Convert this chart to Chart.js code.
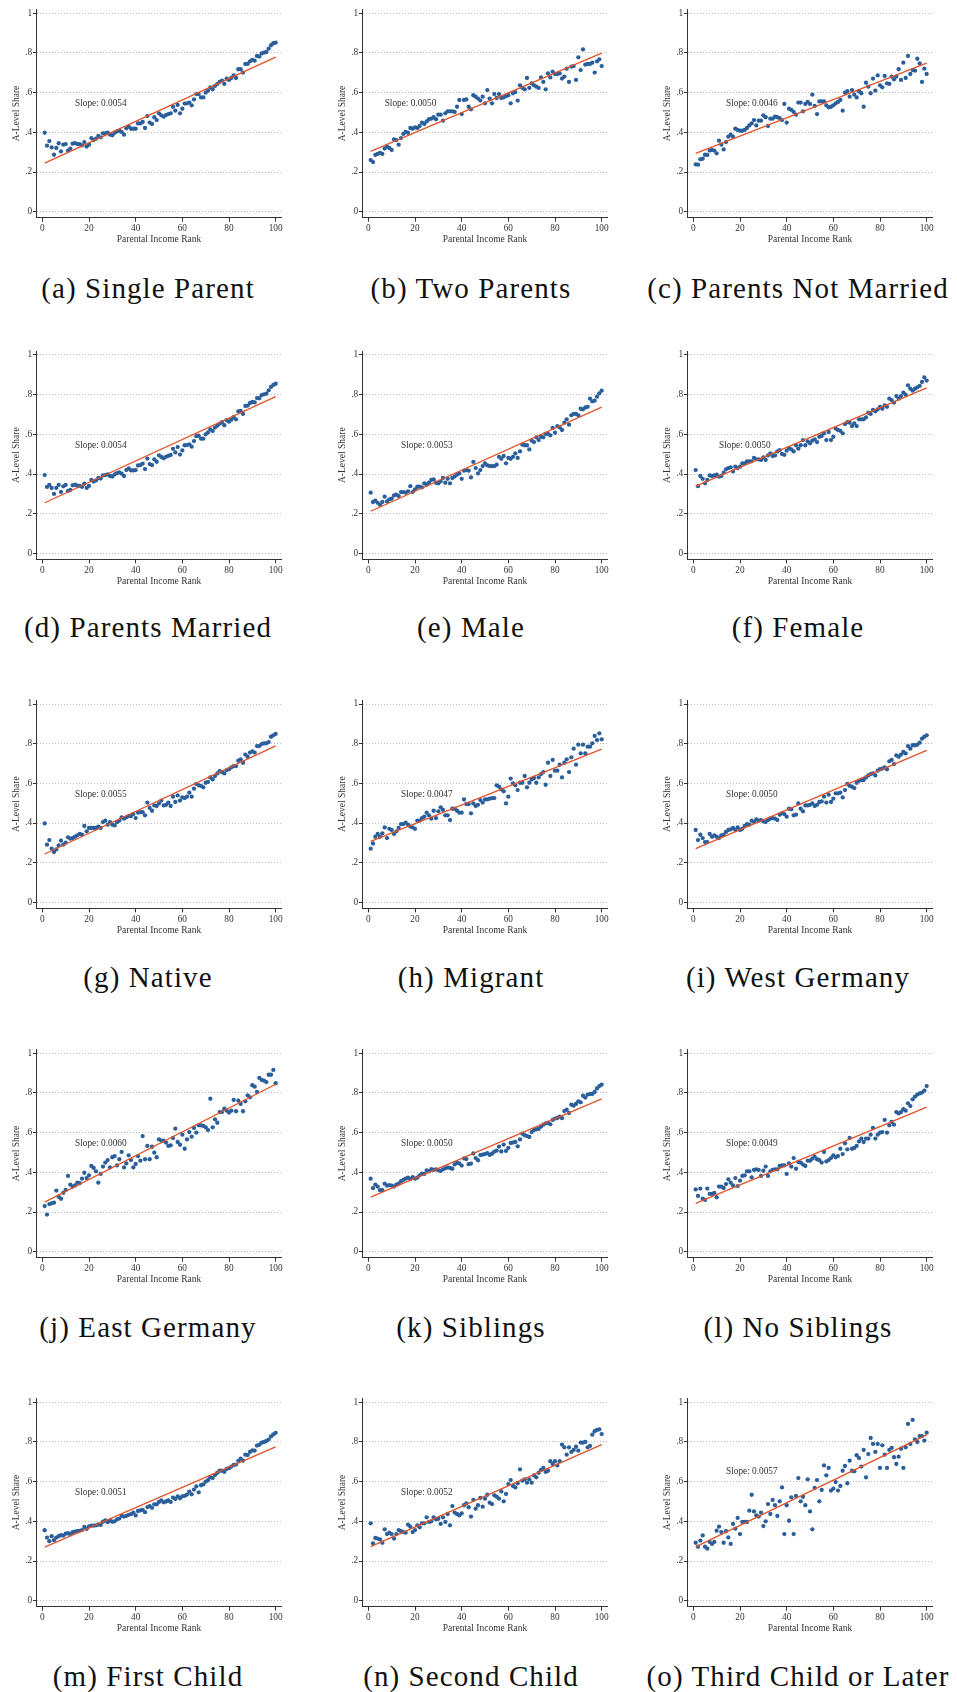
<!DOCTYPE html>
<html>
<head>
<meta charset="utf-8">
<script src="https://cdn.jsdelivr.net/npm/chart.js@4.4.0/dist/chart.umd.min.js"></script>
<style>
  html, body { margin: 0; padding: 0; background: #fff; }
  body { position: relative; width: 957px; height: 1692px; overflow: hidden; }
  canvas { position: absolute; }
  .cap {
    position: absolute; white-space: nowrap; transform: translateX(-50%);
    font-family: "Liberation Serif", serif; font-size: 29px; letter-spacing: 1.1px;
    line-height: 34px; color: #111;
  }
</style>
</head>
<body>
<script>
// Parental income rank (x) shared by every panel
const ranks = [
  1, 2, 3, 4, 5, 6, 7, 8, 9, 10, 11, 12, 13, 14, 15, 16, 17, 18, 19, 20,
  21, 22, 23, 24, 25, 26, 27, 28, 29, 30, 31, 32, 33, 34, 35, 36, 37, 38, 39, 40,
  41, 42, 43, 44, 45, 46, 47, 48, 49, 50, 51, 52, 53, 54, 55, 56, 57, 58, 59, 60,
  61, 62, 63, 64, 65, 66, 67, 68, 69, 70, 71, 72, 73, 74, 75, 76, 77, 78, 79, 80,
  81, 82, 83, 84, 85, 86, 87, 88, 89, 90, 91, 92, 93, 94, 95, 96, 97, 98, 99, 100
];

// A-level share by parental income rank, one array per subgroup
const singleParent = [
  0.398,0.333,0.356,0.324,0.287,0.321,0.345,0.304,0.338,0.341,
  0.308,0.318,0.343,0.346,0.341,0.340,0.334,0.351,0.328,0.338,
  0.371,0.361,0.368,0.382,0.375,0.395,0.395,0.398,0.388,0.385,
  0.398,0.405,0.408,0.402,0.388,0.420,0.429,0.418,0.418,0.418,
  0.445,0.445,0.452,0.422,0.482,0.449,0.442,0.476,0.462,0.496,
  0.486,0.479,0.487,0.492,0.496,0.529,0.509,0.538,0.496,0.519,
  0.545,0.546,0.550,0.536,0.566,0.593,0.593,0.576,0.576,0.600,
  0.610,0.627,0.617,0.634,0.644,0.654,0.661,0.644,0.671,0.664,
  0.674,0.687,0.674,0.718,0.718,0.701,0.745,0.745,0.758,0.765,
  0.761,0.785,0.782,0.798,0.802,0.805,0.822,0.839,0.849,0.852
];
const twoParents = [
  0.260,0.250,0.286,0.291,0.297,0.291,0.318,0.328,0.321,0.311,
  0.365,0.361,0.338,0.371,0.392,0.402,0.398,0.422,0.418,0.425,
  0.422,0.432,0.449,0.442,0.455,0.466,0.469,0.476,0.466,0.489,
  0.489,0.459,0.496,0.506,0.506,0.506,0.503,0.529,0.563,0.492,
  0.563,0.566,0.529,0.516,0.587,0.580,0.570,0.560,0.580,0.546,
  0.613,0.570,0.546,0.593,0.573,0.593,0.573,0.576,0.583,0.587,
  0.546,0.597,0.603,0.560,0.637,0.624,0.617,0.674,0.624,0.647,
  0.637,0.630,0.624,0.677,0.654,0.617,0.697,0.677,0.706,0.694,
  0.694,0.697,0.671,0.681,0.721,0.654,0.731,0.734,0.664,0.778,
  0.714,0.818,0.741,0.745,0.745,0.751,0.701,0.758,0.768,0.734
];
const parentsNotMarried = [
  0.239,0.237,0.264,0.267,0.287,0.286,0.308,0.311,0.308,0.294,
  0.358,0.338,0.314,0.351,0.378,0.388,0.378,0.418,0.412,0.408,
  0.408,0.412,0.422,0.435,0.445,0.462,0.435,0.459,0.459,0.486,
  0.476,0.432,0.469,0.469,0.479,0.476,0.472,0.462,0.543,0.449,
  0.519,0.513,0.503,0.489,0.550,0.550,0.506,0.543,0.553,0.543,
  0.590,0.533,0.492,0.556,0.556,0.556,0.536,0.526,0.529,0.536,
  0.546,0.553,0.563,0.509,0.600,0.607,0.580,0.613,0.590,0.576,
  0.607,0.597,0.529,0.650,0.630,0.597,0.671,0.610,0.687,0.637,
  0.627,0.684,0.647,0.644,0.681,0.667,0.681,0.718,0.664,0.751,
  0.674,0.785,0.694,0.714,0.711,0.771,0.748,0.654,0.721,0.694
];
const parentsMarried = [
  0.395,0.335,0.345,0.330,0.300,0.330,0.345,0.310,0.338,0.345,
  0.315,0.320,0.343,0.346,0.341,0.340,0.336,0.351,0.330,0.340,
  0.370,0.362,0.368,0.380,0.377,0.393,0.395,0.398,0.390,0.387,
  0.398,0.405,0.408,0.402,0.390,0.420,0.428,0.418,0.418,0.420,
  0.443,0.445,0.452,0.425,0.478,0.450,0.445,0.474,0.462,0.494,
  0.486,0.479,0.487,0.492,0.496,0.527,0.509,0.536,0.498,0.519,
  0.545,0.546,0.550,0.538,0.566,0.591,0.593,0.578,0.578,0.600,
  0.610,0.625,0.617,0.634,0.644,0.654,0.661,0.646,0.671,0.664,
  0.674,0.687,0.676,0.716,0.718,0.703,0.743,0.745,0.758,0.763,
  0.761,0.783,0.782,0.798,0.802,0.805,0.822,0.839,0.849,0.855
];
const male = [
  0.306,0.259,0.266,0.255,0.245,0.259,0.286,0.262,0.272,0.276,
  0.292,0.296,0.289,0.309,0.309,0.306,0.313,0.339,0.309,0.323,
  0.336,0.336,0.333,0.353,0.346,0.356,0.370,0.373,0.356,0.353,
  0.363,0.380,0.356,0.376,0.353,0.380,0.387,0.397,0.403,0.376,
  0.417,0.420,0.417,0.383,0.461,0.430,0.403,0.420,0.440,0.454,
  0.444,0.440,0.440,0.440,0.447,0.487,0.477,0.491,0.454,0.481,
  0.477,0.487,0.504,0.481,0.514,0.548,0.545,0.545,0.524,0.568,
  0.561,0.585,0.571,0.588,0.585,0.602,0.602,0.595,0.632,0.608,
  0.642,0.635,0.622,0.659,0.676,0.649,0.696,0.703,0.703,0.696,
  0.729,0.726,0.736,0.739,0.780,0.766,0.770,0.790,0.807,0.820
];
const female = [
  0.420,0.339,0.390,0.376,0.353,0.370,0.393,0.390,0.393,0.397,
  0.387,0.390,0.407,0.424,0.430,0.434,0.413,0.437,0.430,0.437,
  0.454,0.454,0.464,0.464,0.464,0.481,0.474,0.474,0.471,0.484,
  0.471,0.494,0.504,0.491,0.494,0.514,0.521,0.501,0.497,0.518,
  0.531,0.524,0.514,0.545,0.528,0.545,0.571,0.545,0.565,0.555,
  0.568,0.575,0.561,0.588,0.592,0.605,0.571,0.612,0.571,0.588,
  0.629,0.622,0.618,0.605,0.652,0.662,0.659,0.642,0.655,0.642,
  0.676,0.676,0.676,0.686,0.709,0.703,0.723,0.716,0.726,0.739,
  0.729,0.746,0.739,0.780,0.773,0.760,0.793,0.780,0.793,0.810,
  0.800,0.847,0.830,0.820,0.830,0.837,0.844,0.864,0.887,0.871
];
const native = [
  0.398,0.291,0.314,0.271,0.254,0.267,0.287,0.311,0.291,0.301,
  0.328,0.321,0.324,0.331,0.338,0.345,0.341,0.385,0.358,0.375,
  0.375,0.375,0.375,0.382,0.375,0.405,0.412,0.392,0.405,0.392,
  0.388,0.405,0.412,0.429,0.422,0.429,0.435,0.435,0.445,0.425,
  0.452,0.455,0.455,0.439,0.503,0.476,0.462,0.489,0.486,0.499,
  0.513,0.489,0.492,0.503,0.486,0.533,0.506,0.539,0.513,0.529,
  0.526,0.533,0.553,0.533,0.573,0.597,0.590,0.587,0.580,0.603,
  0.607,0.630,0.620,0.637,0.650,0.661,0.657,0.650,0.667,0.671,
  0.681,0.687,0.687,0.714,0.721,0.704,0.745,0.734,0.755,0.761,
  0.755,0.788,0.788,0.798,0.802,0.802,0.808,0.835,0.842,0.849
];
const migrant = [
  0.271,0.297,0.331,0.345,0.331,0.348,0.378,0.324,0.371,0.365,
  0.345,0.358,0.375,0.395,0.395,0.402,0.392,0.382,0.378,0.371,
  0.412,0.412,0.425,0.432,0.452,0.439,0.422,0.462,0.425,0.459,
  0.479,0.466,0.439,0.439,0.415,0.472,0.472,0.462,0.452,0.452,
  0.519,0.496,0.496,0.449,0.499,0.486,0.492,0.516,0.503,0.519,
  0.519,0.523,0.526,0.526,0.590,0.583,0.570,0.560,0.499,0.533,
  0.624,0.600,0.590,0.566,0.603,0.603,0.637,0.580,0.603,0.620,
  0.627,0.603,0.630,0.647,0.657,0.593,0.704,0.637,0.718,0.664,
  0.664,0.694,0.630,0.704,0.721,0.657,0.731,0.775,0.694,0.795,
  0.751,0.795,0.751,0.785,0.785,0.802,0.839,0.818,0.852,0.822
];
const westGermany = [
  0.365,0.314,0.341,0.324,0.304,0.304,0.345,0.331,0.338,0.331,
  0.324,0.338,0.341,0.355,0.365,0.368,0.375,0.365,0.378,0.365,
  0.371,0.385,0.395,0.392,0.412,0.405,0.418,0.412,0.415,0.408,
  0.405,0.415,0.422,0.425,0.422,0.415,0.442,0.449,0.445,0.432,
  0.472,0.469,0.439,0.442,0.499,0.472,0.459,0.489,0.489,0.492,
  0.499,0.486,0.492,0.506,0.509,0.533,0.503,0.543,0.506,0.523,
  0.550,0.550,0.553,0.529,0.566,0.597,0.587,0.583,0.576,0.603,
  0.613,0.617,0.617,0.630,0.640,0.647,0.650,0.640,0.664,0.671,
  0.674,0.681,0.671,0.711,0.718,0.697,0.741,0.734,0.745,0.758,
  0.751,0.788,0.775,0.792,0.792,0.795,0.805,0.825,0.835,0.842
];
const eastGermany = [
  0.230,0.187,0.240,0.244,0.247,0.308,0.277,0.267,0.297,0.311,
  0.382,0.338,0.328,0.334,0.348,0.345,0.368,0.398,0.371,0.385,
  0.432,0.422,0.405,0.348,0.392,0.429,0.449,0.462,0.425,0.476,
  0.482,0.435,0.466,0.503,0.425,0.445,0.486,0.462,0.425,0.442,
  0.482,0.459,0.583,0.466,0.533,0.466,0.529,0.499,0.476,0.566,
  0.560,0.560,0.550,0.533,0.536,0.573,0.620,0.553,0.539,0.590,
  0.519,0.566,0.603,0.580,0.624,0.600,0.637,0.637,0.634,0.627,
  0.613,0.771,0.627,0.667,0.650,0.704,0.704,0.721,0.711,0.701,
  0.711,0.765,0.708,0.761,0.745,0.708,0.758,0.788,0.778,0.839,
  0.832,0.805,0.876,0.866,0.862,0.855,0.892,0.892,0.916,0.849
];
const siblings = [
  0.368,0.320,0.338,0.328,0.310,0.310,0.343,0.333,0.336,0.333,
  0.328,0.338,0.343,0.355,0.362,0.368,0.373,0.366,0.376,0.368,
  0.373,0.385,0.393,0.392,0.410,0.405,0.416,0.412,0.415,0.410,
  0.407,0.415,0.420,0.425,0.422,0.418,0.440,0.447,0.445,0.434,
  0.470,0.467,0.441,0.444,0.495,0.472,0.461,0.487,0.489,0.492,
  0.497,0.488,0.494,0.504,0.509,0.530,0.505,0.540,0.508,0.523,
  0.548,0.550,0.553,0.531,0.566,0.595,0.587,0.583,0.578,0.603,
  0.613,0.617,0.619,0.630,0.640,0.647,0.650,0.642,0.664,0.671,
  0.674,0.681,0.673,0.709,0.716,0.699,0.741,0.736,0.745,0.758,
  0.753,0.786,0.777,0.792,0.794,0.795,0.805,0.823,0.835,0.842
];
const noSiblings = [
  0.314,0.281,0.318,0.267,0.261,0.318,0.291,0.291,0.297,0.274,
  0.328,0.328,0.321,0.341,0.365,0.348,0.334,0.371,0.331,0.358,
  0.382,0.385,0.405,0.405,0.375,0.412,0.415,0.412,0.382,0.408,
  0.429,0.382,0.405,0.412,0.415,0.415,0.432,0.435,0.435,0.392,
  0.445,0.429,0.472,0.418,0.452,0.449,0.439,0.432,0.459,0.459,
  0.469,0.479,0.466,0.462,0.449,0.503,0.455,0.462,0.472,0.486,
  0.476,0.482,0.519,0.492,0.546,0.516,0.573,0.519,0.523,0.533,
  0.556,0.570,0.553,0.570,0.570,0.590,0.624,0.570,0.590,0.600,
  0.603,0.664,0.600,0.637,0.654,0.640,0.704,0.697,0.704,0.718,
  0.711,0.748,0.734,0.768,0.782,0.792,0.798,0.802,0.812,0.835
];
const firstChild = [
  0.355,0.318,0.300,0.325,0.305,0.318,0.325,0.330,0.328,0.338,
  0.340,0.335,0.345,0.348,0.350,0.352,0.356,0.372,0.362,0.375,
  0.378,0.378,0.380,0.384,0.382,0.398,0.405,0.396,0.404,0.398,
  0.400,0.410,0.414,0.428,0.424,0.428,0.433,0.436,0.444,0.430,
  0.452,0.455,0.458,0.446,0.472,0.476,0.468,0.486,0.486,0.498,
  0.506,0.496,0.500,0.505,0.498,0.520,0.512,0.526,0.516,0.526,
  0.528,0.535,0.550,0.536,0.560,0.576,0.546,0.582,0.586,0.600,
  0.607,0.622,0.618,0.634,0.645,0.655,0.655,0.650,0.664,0.668,
  0.676,0.684,0.686,0.705,0.716,0.706,0.736,0.734,0.750,0.758,
  0.756,0.782,0.786,0.796,0.800,0.805,0.812,0.828,0.838,0.846
];
const secondChild = [
  0.390,0.289,0.316,0.313,0.309,0.292,0.360,0.336,0.343,0.336,
  0.313,0.336,0.356,0.350,0.346,0.343,0.383,0.373,0.346,0.356,
  0.380,0.370,0.390,0.390,0.420,0.397,0.400,0.420,0.410,0.413,
  0.387,0.420,0.397,0.437,0.380,0.477,0.444,0.437,0.430,0.440,
  0.481,0.491,0.471,0.424,0.508,0.464,0.481,0.518,0.474,0.514,
  0.534,0.494,0.487,0.531,0.524,0.514,0.551,0.501,0.538,0.588,
  0.608,0.578,0.571,0.592,0.662,0.605,0.612,0.595,0.612,0.595,
  0.632,0.622,0.645,0.659,0.669,0.649,0.655,0.703,0.689,0.703,
  0.682,0.703,0.787,0.773,0.736,0.773,0.750,0.760,0.776,0.756,
  0.797,0.797,0.800,0.773,0.780,0.837,0.854,0.861,0.864,0.840
];
const thirdChildOrLater = [
  0.292,0.272,0.303,0.329,0.272,0.262,0.296,0.286,0.296,0.353,
  0.373,0.346,0.292,0.350,0.319,0.286,0.387,0.363,0.417,0.336,
  0.397,0.397,0.397,0.454,0.534,0.450,0.430,0.424,0.444,0.376,
  0.400,0.487,0.437,0.508,0.481,0.427,0.501,0.571,0.336,0.481,
  0.403,0.521,0.336,0.528,0.618,0.501,0.524,0.481,0.612,0.450,
  0.360,0.568,0.608,0.501,0.558,0.682,0.632,0.669,0.555,0.565,
  0.598,0.555,0.578,0.655,0.679,0.592,0.706,0.655,0.652,0.733,
  0.719,0.676,0.760,0.622,0.739,0.820,0.790,0.750,0.790,0.669,
  0.783,0.736,0.669,0.760,0.770,0.723,0.689,0.726,0.766,0.669,
  0.773,0.891,0.790,0.911,0.813,0.800,0.830,0.830,0.807,0.847
];

// Panel captions, fitted slopes and intercepts (panel order a..o)
const captions = [
  "(a) Single Parent", "(b) Two Parents", "(c) Parents Not Married",
  "(d) Parents Married", "(e) Male", "(f) Female",
  "(g) Native", "(h) Migrant", "(i) West Germany",
  "(j) East Germany", "(k) Siblings", "(l) No Siblings",
  "(m) First Child", "(n) Second Child", "(o) Third Child or Later"
];
const series = [
  singleParent, twoParents, parentsNotMarried,
  parentsMarried, male, female,
  native, migrant, westGermany,
  eastGermany, siblings, noSiblings,
  firstChild, secondChild, thirdChildOrLater
];
const slopes = [
  0.0054, 0.0050, 0.0046,
  0.0054, 0.0053, 0.0050,
  0.0055, 0.0047, 0.0050,
  0.0060, 0.0050, 0.0049,
  0.0051, 0.0052, 0.0057
];
const intercepts = [
  0.239, 0.299, 0.289,
  0.250, 0.207, 0.334,
  0.2385, 0.303, 0.266,
  0.244, 0.270, 0.239,
  0.265, 0.267, 0.266
];
const xTicks = [0, 20, 40, 60, 80, 100];
const yTicks = [0, 0.2, 0.4, 0.6, 0.8, 1];
const yTickLabels = ["0", ".2", ".4", ".6", ".8", "1"];

// Where each "Slope:" note sits, in data units (x rank, y share)
const notePos = [
  [14, 0.546], [7, 0.546], [14, 0.546],
  [14, 0.546], [14, 0.546], [11, 0.546],
  [14, 0.546], [14, 0.546], [14, 0.546],
  [14, 0.546], [14, 0.546], [14, 0.546],
  [14, 0.546], [14, 0.546], [14, 0.650]
];

// Page geometry of the 3 x 5 grid
const GRID = {
  colPlotLeft: [36.5, 362.5, 687.5],
  rowOnePixel: [13.3, 355, 704, 1053.3, 1402.3],
  plotWidth: 245,
  unitHeight: 198.4,
  captionX: [148, 471, 798],
  captionY: [288, 627, 977, 1327, 1676]
};
const X_MIN = -2.5, X_MAX = 102.5, Y_MIN = -0.03, Y_MAX = 1.02;
const Y_AXIS_W = 40, X_AXIS_H = 30;

const DOT = "#2a5f9c";
const FIT = "#e2532a";
const INK = "#333333";
const GRIDC = "#b9b9b9";
const FONT = "Liberation Serif";

const slopeNote = {
  id: "slopeNote",
  afterDatasetsDraw(chart, args, opts) {
    const { ctx, scales: { x, y } } = chart;
    ctx.save();
    ctx.font = `9.3px "${FONT}"`;
    ctx.fillStyle = INK;
    ctx.textAlign = "left";
    ctx.textBaseline = "middle";
    ctx.fillText(opts.text, x.getPixelForValue(opts.x), y.getPixelForValue(opts.y));
    ctx.restore();
  }
};

series.forEach((values, p) => {
  const col = p % 3, row = Math.floor(p / 3);
  const plotLeft = GRID.colPlotLeft[col];
  const plotTop = GRID.rowOnePixel[row] - (Y_MAX - 1) * GRID.unitHeight;
  const plotH = (Y_MAX - Y_MIN) * GRID.unitHeight;

  const left = Math.floor(plotLeft - Y_AXIS_W);
  const padLeft = plotLeft - Y_AXIS_W - left;
  const top = Math.floor(plotTop - 7);
  const padTop = plotTop - top;
  const width = Math.ceil(padLeft + Y_AXIS_W + GRID.plotWidth + 12);
  const padRight = width - (padLeft + Y_AXIS_W + GRID.plotWidth);
  const height = Math.ceil(padTop + plotH + X_AXIS_H + 4);
  const padBottom = height - (padTop + plotH + X_AXIS_H);

  const cv = document.createElement("canvas");
  cv.width = width; cv.height = height;
  cv.style.left = left + "px"; cv.style.top = top + "px";
  cv.style.width = width + "px"; cv.style.height = height + "px";
  document.body.appendChild(cv);

  const points = ranks.map((r, i) => ({ x: r, y: values[i] }));
  const b = slopes[p], a = intercepts[p];
  const fitLine = [ranks[0], ranks[ranks.length - 1]].map(r => ({ x: r, y: a + b * r }));

  new Chart(cv, {
    type: "scatter",
    data: {
      datasets: [
        { data: fitLine, showLine: true, borderColor: FIT, borderWidth: 1.3,
          pointRadius: 0, fill: false },
        { data: points, backgroundColor: DOT, borderWidth: 0, pointRadius: 2.15 }
      ]
    },
    options: {
      responsive: false, animation: false, events: [],
      layout: { padding: { left: padLeft, top: padTop, right: padRight, bottom: padBottom } },
      plugins: {
        legend: { display: false }, tooltip: { enabled: false },
        slopeNote: { text: "Slope: " + b.toFixed(4), x: notePos[p][0], y: notePos[p][1] }
      },
      scales: {
        x: {
          type: "linear", min: X_MIN, max: X_MAX,
          afterBuildTicks: s => { s.ticks = xTicks.map(v => ({ value: v })); },
          afterFit: s => { s.height = X_AXIS_H; },
          ticks: { color: INK, font: { family: FONT, size: 9.3 }, padding: 1.4,
                   maxRotation: 0, autoSkip: false },
          grid: { drawOnChartArea: false, drawTicks: true, tickLength: 4,
                  tickColor: INK, tickWidth: 1 },
          border: { display: true, color: INK, width: 1 },
          title: { display: true, text: "Parental Income Rank", color: INK,
                   font: { family: FONT, size: 9.5 }, padding: { top: 0, bottom: 2 } }
        },
        y: {
          type: "linear", min: Y_MIN, max: Y_MAX,
          afterBuildTicks: s => { s.ticks = yTicks.map(v => ({ value: v })); },
          afterFit: s => { s.width = Y_AXIS_W; },
          ticks: { color: INK, font: { family: FONT, size: 9.3 }, padding: 0.8,
                   callback: (v, i) => yTickLabels[i] },
          grid: { drawOnChartArea: true, color: GRIDC, lineWidth: 1,
                  drawTicks: true, tickLength: 3.6, tickColor: INK, tickWidth: 1,
                  tickBorderDash: [] },
          border: { display: true, color: INK, width: 1, dash: [1, 2] },
          title: { display: true, text: "A-Level Share", color: INK,
                   font: { family: FONT, size: 9.5 }, padding: { top: 13.8, bottom: 0 } }
        }
      }
    },
    plugins: [slopeNote]
  });

  const cap = document.createElement("div");
  cap.className = "cap";
  cap.textContent = captions[p];
  cap.style.left = GRID.captionX[col] + "px";
  cap.style.top = (GRID.captionY[row] - 17) + "px";
  document.body.appendChild(cap);
});
</script>
</body>
</html>
